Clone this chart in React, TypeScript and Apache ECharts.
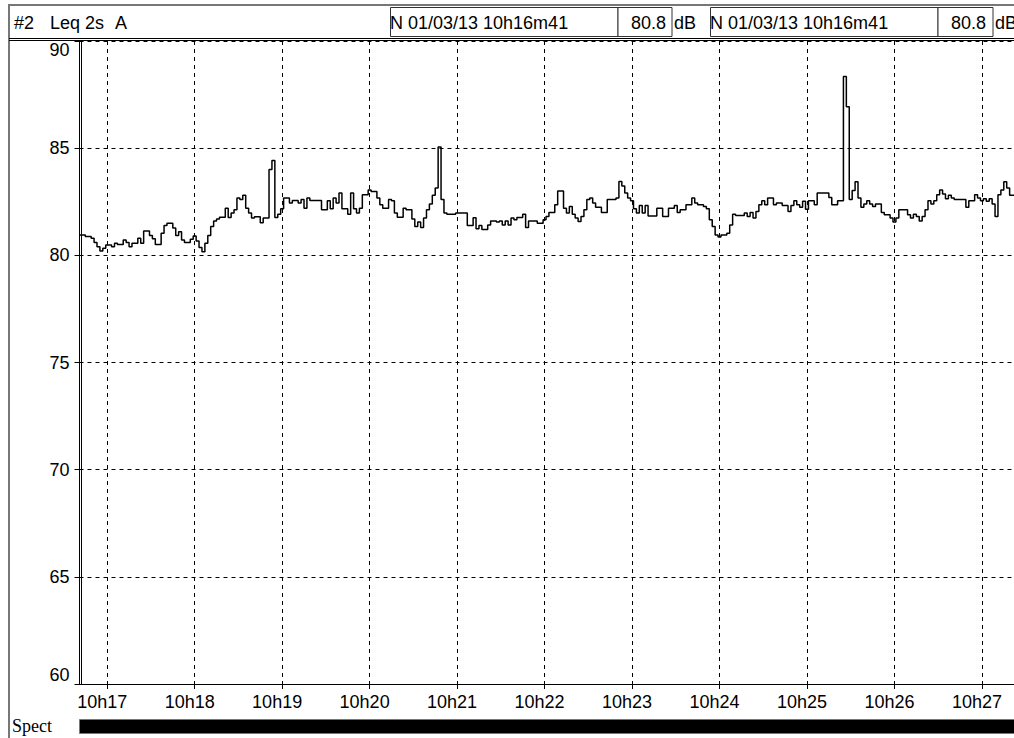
import React, { useEffect, useRef } from 'react';
import * as echarts from 'echarts';

// ---- data ----
const START_SECONDS = 10 * 3600 + 16 * 60 + 41; // 10h16m41
const END_SECONDS = START_SECONDS + 641;

// elapsed seconds since 10h16m41 at which each Leq 2s level begins
const elapsed = [
  0, 4, 8, 10, 12, 14, 16, 18, 22, 24, 26, 30, 32, 34, 36, 40, 42, 44, 48, 50,
  52, 56, 58, 60, 64, 66, 68, 70, 72, 76, 78, 80, 82, 84, 86, 88, 90, 92, 94, 96,
  100, 102, 104, 106, 108, 110, 112, 114, 116, 118, 120, 124, 126, 130, 132, 134, 136, 138, 140, 144,
  146, 150, 152, 154, 156, 158, 166, 170, 172, 174, 176, 178, 180, 184, 186, 188, 190, 192, 194, 198,
  200, 204, 206, 208, 212, 214, 216, 218, 222, 224, 228, 230, 232, 234, 236, 238, 240, 242, 244, 246,
  248, 250, 252, 258, 266, 270, 272, 274, 276, 280, 282, 286, 288, 290, 292, 294, 296, 298, 300, 304,
  306, 308, 314, 318, 320, 322, 326, 328, 332, 334, 336, 338, 340, 342, 344, 346, 348, 350, 352, 354,
  358, 362, 368, 370, 372, 374, 376, 378, 380, 382, 384, 386, 388, 390, 396, 400, 404, 408, 410, 412,
  416, 420, 422, 424, 428, 430, 432, 434, 436, 438, 440, 444, 446, 448, 450, 456, 458, 460, 462, 464,
  466, 468, 470, 472, 476, 478, 482, 486, 488, 490, 492, 494, 496, 498, 500, 504, 506, 514, 516, 520,
  524, 526, 528, 530, 532, 534, 536, 538, 540, 542, 544, 546, 550, 552, 556, 558, 560, 562, 568, 570,
  572, 574, 576, 578, 580, 582, 584, 586, 588, 590, 592, 594, 596, 598, 600, 608, 610, 614, 616, 618,
  620, 622, 624, 626, 628, 630, 632, 634, 636, 638, 642,
];

// Leq 2s A levels, dB
const levels = [
  80.95, 80.88, 80.8, 80.6, 80.4, 80.2, 80.33, 80.48, 80.4, 80.56, 80.5, 80.72, 80.6, 80.4, 80.56, 80.8, 80.56, 81.13, 80.93, 80.77,
  80.5, 81.03, 81.39, 81.5, 81.27, 80.92, 81.1, 80.72, 80.6, 80.75, 80.9, 80.67, 80.36, 80.17, 80.56, 80.92, 81.34, 81.6, 81.7, 81.78,
  82.2, 81.77, 81.97, 82.13, 82.68, 82.6, 82.8, 82.2, 81.97, 81.74, 81.8, 81.52, 81.74, 84.0, 84.43, 81.77, 81.92, 82.17, 82.68, 82.44,
  82.56, 82.44, 82.6, 82.2, 82.68, 82.56, 82.13, 82.55, 82.17, 82.68, 82.44, 82.91, 82.17, 81.92, 82.91, 82.17, 81.97, 82.2, 82.83, 83.05,
  82.98, 82.68, 82.36, 82.2, 82.6, 82.55, 81.97, 81.78, 82.2, 82.13, 81.7, 81.34, 81.55, 81.3, 81.74, 82.13, 82.4, 82.8, 83.14, 85.05,
  82.6, 81.97, 81.92, 81.97, 81.39, 81.75, 81.24, 81.39, 81.2, 81.42, 81.6, 81.55, 81.6, 81.42, 81.6, 81.42, 81.74, 81.66, 81.77, 81.92,
  81.3, 81.6, 81.5, 81.66, 81.81, 82.0, 82.36, 83.0, 82.2, 81.97, 82.28, 81.92, 81.74, 81.58, 81.81, 82.13, 82.6, 82.68, 82.44, 82.24,
  82.0, 82.6, 82.68, 83.45, 83.23, 82.91, 82.68, 82.55, 82.17, 81.97, 82.33, 81.97, 82.33, 81.84, 82.2, 81.81, 82.2, 82.33, 82.0, 82.13,
  82.36, 82.68, 82.44, 82.36, 82.28, 82.17, 81.66, 81.34, 80.95, 80.85, 80.95, 81.03, 81.42, 81.92, 81.86, 81.97, 81.81, 82.0, 81.74, 82.05,
  82.36, 82.55, 82.36, 82.68, 82.36, 82.44, 82.33, 82.05, 82.33, 82.55, 82.36, 82.24, 82.52, 82.15, 82.55, 82.36, 82.91, 82.7, 82.36, 82.55,
  88.34, 86.93, 82.6, 83.02, 83.43, 82.68, 82.24, 82.4, 82.55, 82.4, 82.28, 82.4, 82.0, 81.89, 81.74, 81.55, 81.74, 82.13, 81.89, 81.74,
  81.92, 81.81, 81.6, 81.81, 82.13, 82.55, 82.4, 82.55, 82.83, 83.05, 82.86, 82.64, 82.8, 82.68, 82.6, 82.24, 82.55, 82.83, 82.68, 82.55,
  82.64, 82.52, 82.64, 82.4, 81.81, 82.83, 83.05, 83.43, 83.14, 82.8, 82.8,
];

const minuteTicks = [17, 18, 19, 20, 21, 22, 23, 24, 25, 26, 27].map((m) => 10 * 3600 + m * 60);
const Y_MIN = 60;
const Y_MAX = 90;
const Y_STEP = 5;

const titleParts = ['#2', 'Leq 2s', 'A'];
const cursorStamp = 'N 01/03/13 10h16m41';
const cursorValue = '80.8';
const unitText = 'dB';
const bottomLabel = 'Spect';

const SANS = "'Liberation Sans', Arial, sans-serif";
const SERIF = "'Liberation Serif', 'Times New Roman', serif";

function txt(text: string, x: number, y: number, align: string, size = 18, family = SANS) {
  return {
    type: 'text',
    x,
    y,
    z: 100,
    silent: true,
    style: {
      text,
      fill: '#000',
      fontSize: size,
      fontFamily: family,
      align,
      verticalAlign: 'middle',
      textAlign: align,
      textVerticalAlign: 'middle',
    },
  };
}

function box(x: number, y: number, w: number, h: number) {
  return {
    type: 'rect',
    z: 90,
    silent: true,
    shape: { x, y, width: w, height: h },
    style: { fill: '#fff', stroke: '#333', lineWidth: 1 },
  };
}

function hline(x1: number, x2: number, y: number, color = '#000', w = 1) {
  return {
    type: 'line',
    z: 95,
    silent: true,
    shape: { x1, y1: y, x2, y2: y },
    style: { stroke: color, lineWidth: w },
  };
}

function vline(x: number, y1: number, y2: number, color = '#000', w = 1) {
  return {
    type: 'line',
    z: 95,
    silent: true,
    shape: { x1: x, y1, x2: x, y2 },
    style: { stroke: color, lineWidth: w },
  };
}

export default function App() {
  const ref = useRef<HTMLDivElement>(null);

  useEffect(() => {
    if (!ref.current) return;
    const chart = echarts.init(ref.current, null, { renderer: 'svg' });
    const data = elapsed.map((t, i) => [START_SECONDS + t, levels[i]]);
    const fmtMinute = (v: number) => `${Math.floor(v / 3600)}h${Math.floor((v % 3600) / 60)}`;

    const option: any = {
      animation: false,
      backgroundColor: '#fff',
      grid: {
        left: 79.5,
        right: 0,
        top: 41,
        bottom: 54,
        containLabel: false,
        outerBoundsMode: 'none',
      },
      xAxis: {
        type: 'value',
        min: START_SECONDS,
        max: END_SECONDS,
        axisLine: { show: true, onZero: false, lineStyle: { color: '#000', width: 1 } },
        axisTick: { show: true, length: 5, customValues: minuteTicks, lineStyle: { color: '#000' } },
        axisLabel: {
          customValues: minuteTicks,
          formatter: fmtMinute,
          color: '#000',
          fontSize: 18,
          fontFamily: SANS,
          margin: 9,
          padding: [0, 10, 0, 0],
        },
        splitLine: { show: true, lineStyle: { color: '#000', width: 1, type: [4, 4] } },
      },
      yAxis: {
        type: 'value',
        min: Y_MIN,
        max: Y_MAX,
        interval: Y_STEP,
        axisLine: { show: true, onZero: false, lineStyle: { color: '#000', width: 1 } },
        axisTick: { show: true, length: 5, lineStyle: { color: '#000' } },
        axisLabel: {
          color: '#000',
          fontSize: 18,
          fontFamily: SANS,
          margin: 10,
          verticalAlignMinLabel: 'bottom',
          verticalAlignMaxLabel: 'top',
        },
        splitLine: { show: true, lineStyle: { color: '#000', width: 1, type: [4, 4] } },
      },
      series: [
        {
          type: 'line',
          step: 'end',
          symbol: 'none',
          silent: true,
          data,
          lineStyle: { color: '#000', width: 1.5 },
        },
      ],
      graphic: [
        // frame
        hline(8, 1014, 5, '#777', 2),
        vline(9, 4, 738, '#777', 2),
        // header bottom double line
        hline(9, 1014, 38.5),
        hline(9, 1014, 40.5),
        // cursor boxes
        box(390.5, 7.5, 227.5, 29),
        box(618, 7.5, 54, 29),
        box(710.5, 7.5, 227.5, 29),
        box(938, 7.5, 55, 29),
        txt(titleParts[0], 14, 23, 'left'),
        txt(titleParts[1], 50, 23, 'left'),
        txt(titleParts[2], 115, 23, 'left'),
        txt(cursorStamp, 390, 23, 'left'),
        txt(cursorValue, 666, 23, 'right'),
        txt(unitText, 674, 23, 'left'),
        txt(cursorStamp, 710, 23, 'left'),
        txt(cursorValue, 986, 23, 'right'),
        txt(unitText, 995, 23, 'left'),
        // second y axis line
        vline(81.5, 41, 684),
        // spectrum bar
        {
          type: 'rect',
          z: 90,
          silent: true,
          shape: { x: 79.5, y: 719.5, width: 940, height: 14 },
          style: { fill: '#000', stroke: '#777', lineWidth: 1 },
        },
        txt(bottomLabel, 12, 726, 'left', 18, SERIF),
      ],
    };

    chart.setOption(option);
    return () => chart.dispose();
  }, []);

  return (
    <div
      ref={ref}
      style={{ position: 'absolute', left: 0, top: 0, width: 1014, height: 738, background: '#fff' }}
    />
  );
}
